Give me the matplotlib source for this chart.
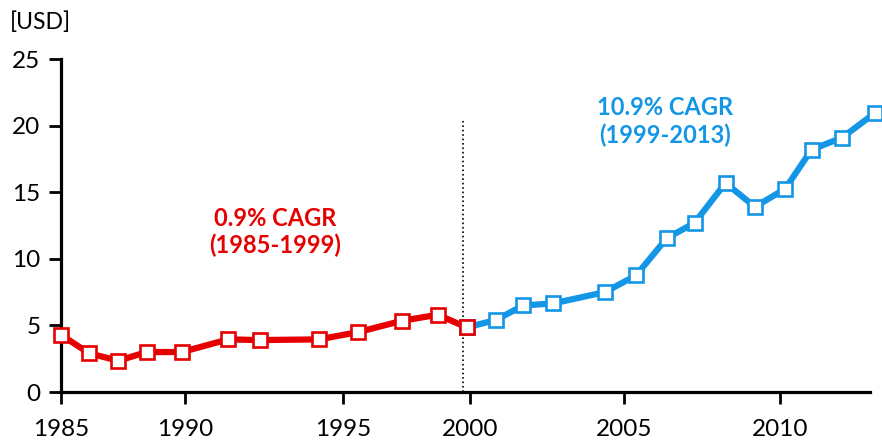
import matplotlib
matplotlib.use("Agg")
import matplotlib.pyplot as plt
import numpy as np

# data (decimal years, USD)
red_years = [1985.0, 1986.15, 1987.32, 1988.46, 1989.87, 1991.37, 1992.38,
             1994.25, 1995.61, 1997.34, 1998.73, 1999.87]
red_values = [4.3, 2.9, 2.35, 3.0, 3.0, 3.95, 3.9, 3.95, 4.5, 5.35, 5.8, 4.85]

blue_years = [1999.87, 2000.83, 2001.73, 2002.70, 2004.38, 2005.38, 2006.37,
              2007.26, 2008.25, 2009.19, 2010.16, 2011.01, 2011.99, 2013.04]
blue_values = [4.85, 5.4, 6.5, 6.65, 7.5, 8.75, 11.55, 12.7, 15.7, 13.9,
               15.25, 18.2, 19.1, 20.95]

x_ticks = [1985, 1990, 1995, 2000, 2005, 2010]
y_ticks = [0, 5, 10, 15, 20, 25]
split_year = 1999.71

red_label = "0.9% CAGR\n(1985-1999)"
blue_label = "10.9% CAGR\n(1999-2013)"

RED = "#E60000"
BLUE = "#1496E6"

# the source axis is not evenly spaced; tick spacing in relative units
knot_years = np.array([1980, 1985, 1990, 1995, 2000, 2005, 2010, 2015], dtype=float)
knot_pos = np.array([-63.8, 60.7, 185.0, 342.7, 470.0, 624.0, 780.0, 936.0])


def _fwd(x):
    return np.interp(x, knot_years, knot_pos)


def _inv(p):
    return np.interp(p, knot_pos, knot_years)


plt.rcParams["font.family"] = ["Lato", "DejaVu Sans"]

fig = plt.figure(figsize=(8.82, 4.40), dpi=100)
ax = fig.add_axes([60.7 / 882, 48 / 440, (870 - 60.7) / 882, 333 / 440])
ax.set_xscale("function", functions=(_fwd, _inv))

line_kw = dict(linewidth=4.5, marker="s", markersize=9.5, markerfacecolor="white",
               markeredgewidth=1.9, clip_on=False, solid_joinstyle="round")
ax.plot(red_years, red_values, color=RED, zorder=3, **line_kw)
ax.plot(blue_years, blue_values, color=BLUE, zorder=3, **line_kw)
# redraw the split point in red on top
ax.plot(red_years[-1:], red_values[-1:], color=RED, zorder=4, **line_kw)

ax.plot([split_year, split_year], [0, 20.4], color="black", linestyle=":",
        linewidth=1.2, zorder=2)

ax.text(1992.85, 12.0, red_label, color=RED, fontsize=17, fontweight="bold",
        ha="center", va="center", linespacing=1.2)
ax.text(2006.3, 20.3, blue_label, color=BLUE, fontsize=17, fontweight="bold",
        ha="center", va="center", linespacing=1.2)

ax.set_xlim(1985, 2012.88)
ax.set_ylim(0, 25)
ax.set_xticks(x_ticks)
ax.set_yticks(y_ticks)
ax.set_xticks([], minor=True)
ax.tick_params(axis="both", direction="out", length=8.5, width=2.0,
               labelsize=17.5, color="black")
ax.tick_params(axis="y", pad=6)
ax.tick_params(axis="x", pad=11)

for side in ("top", "right"):
    ax.spines[side].set_visible(False)
for side in ("left", "bottom"):
    ax.spines[side].set_linewidth(2.3)

fig.text(10 / 882, 1 - 22 / 440, "[USD]", fontsize=16.5, ha="left", va="center")

fig.savefig("out.png", dpi=100)
